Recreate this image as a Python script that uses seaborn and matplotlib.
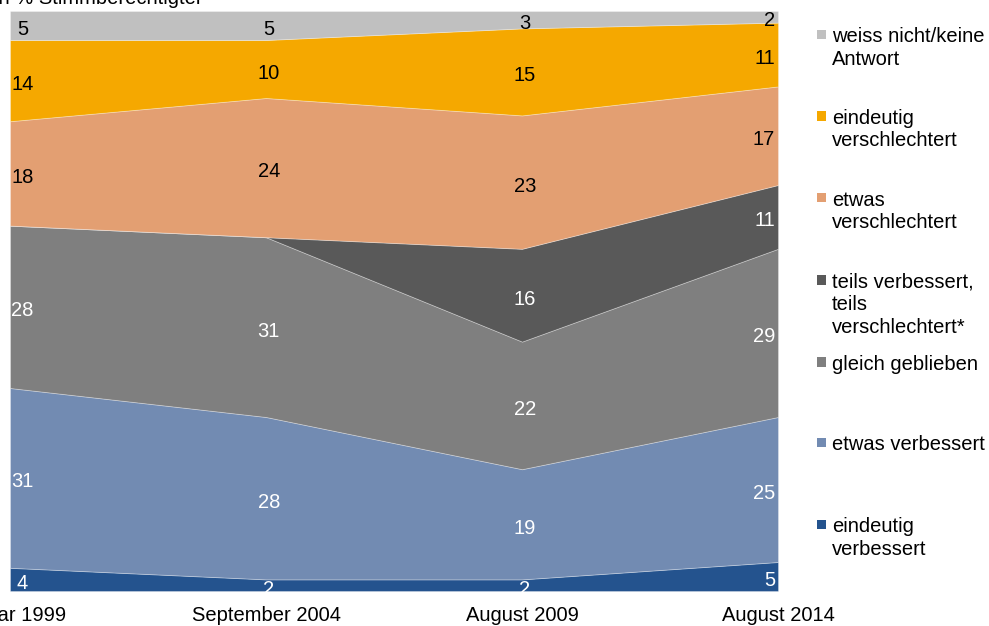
import matplotlib
matplotlib.use("Agg")
import matplotlib.pyplot as plt
import seaborn as sns
import numpy as np
from matplotlib.patches import Rectangle

sns.set_theme(style="white")
plt.rcParams['font.family'] = ['Liberation Sans', 'DejaVu Sans']

# ---- data ----
periods = ["Januar 1999", "September 2004", "August 2009", "August 2014"]
categories = ["eindeutig\nverbessert", "etwas verbessert", "gleich geblieben",
              "teils verbessert,\nteils\nverschlechtert*", "etwas\nverschlechtert",
              "eindeutig\nverschlechtert", "weiss nicht/keine\nAntwort"]
eindeutig_verbessert = [4, 2, 2, 5]
etwas_verbessert = [31, 28, 19, 25]
gleich_geblieben = [28, 31, 22, 29]
teils_teils = [0, 0, 16, 11]
etwas_verschlechtert = [18, 24, 23, 17]
eindeutig_verschlechtert = [14, 10, 15, 11]
weiss_nicht = [5, 5, 3, 2]

series = [eindeutig_verbessert, etwas_verbessert, gleich_geblieben, teils_teils,
          etwas_verschlechtert, eindeutig_verschlechtert, weiss_nicht]
colors = ["#24538E", "#728BB2", "#7F7F7F", "#595959", "#E39F72", "#F5A800", "#C0C0C0"]
text_colors = ["white", "white", "white", "white", "black", "black", "black"]

W, H = 989, 626
fig = plt.figure(figsize=(W / 100, H / 100), dpi=100)
ax = fig.add_axes([10 / W, 1 - 591 / H, (778 - 10) / W, (591 - 11) / H])

x = np.arange(len(periods))
ax.stackplot(x, *series, colors=colors, linewidth=0.6, edgecolor=(1, 1, 1, 0.35))
ax.set_xlim(0, len(periods) - 1)
ax.set_ylim(0, 100)
ax.set_yticks([])
ax.set_xticks(x)
ax.set_xticklabels(periods, fontsize=14.5, color="black")
ax.tick_params(axis="x", length=0, pad=11)
for s in ax.spines.values():
    s.set_visible(False)

# data labels
cum = np.zeros(len(periods))
for vals, tc in zip(series, text_colors):
    vals = np.array(vals, dtype=float)
    for i, v in enumerate(vals):
        if v > 0:
            ymid = cum[i] + v / 2
            if i == 0:
                ax.annotate(f"{int(v)}", (x[i], ymid), xytext=(9, -1.5), textcoords="offset points",
                            ha="center", va="center_baseline", color=tc, fontsize=14.5)
            elif i == len(periods) - 1:
                ax.annotate(f"{int(v)}", (x[i], ymid), xytext=(-2, -1.5), textcoords="offset points",
                            ha="right", va="center_baseline", color=tc, fontsize=14.5)
            else:
                ax.annotate(f"{int(v)}", (x[i], ymid), xytext=(2, -1.5), textcoords="offset points",
                            ha="center", va="center_baseline", color=tc, fontsize=14.5)
    cum += vals

# overlay axes in pixel coordinates for legend and cut-off title
ov = fig.add_axes([0, 0, 1, 1])
ov.set_xlim(0, W)
ov.set_ylim(H, 0)
ov.axis("off")
ov.patch.set_alpha(0)

ov.text(203, 4, "in % Stimmberechtigter", ha="right", va="baseline", fontsize=14.5, color="black")

legend_first = [36, 117.5, 199, 281.5, 363.5, 444, 526]
for k in range(len(series)):
    idx = len(series) - 1 - k
    yc = legend_first[k]
    ov.add_patch(Rectangle((816.5, yc - 6.5), 9.5, 9.5, facecolor=colors[idx], edgecolor="none"))
    ov.text(832, yc - 8.5, categories[idx], ha="left", va="top", fontsize=14.5,
            color="black", linespacing=1.22)

fig.savefig("out.png", dpi=100)
